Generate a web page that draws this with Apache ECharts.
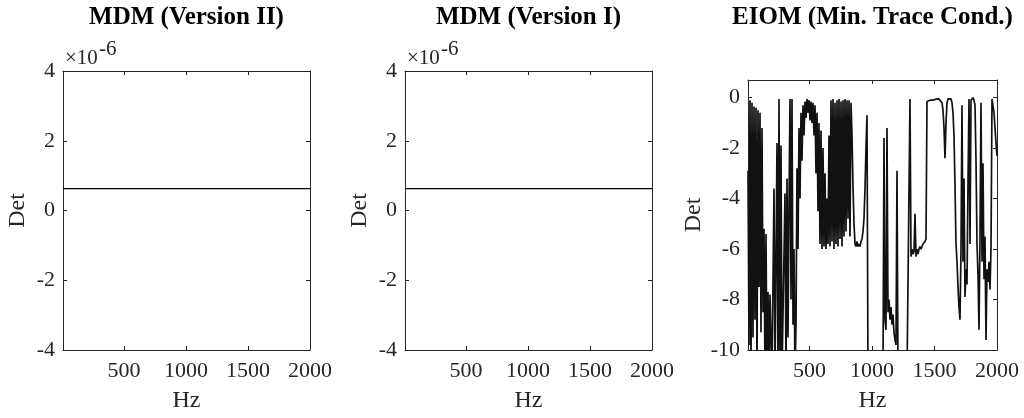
<!DOCTYPE html>
<html>
<head>
<meta charset="utf-8">
<script src="https://cdn.jsdelivr.net/npm/echarts@6/dist/echarts.min.js"></script>
<style>
html,body{margin:0;padding:0;background:#fff;}
#chart{width:1024px;height:418px;}
</style>
</head>
<body>
<div id="chart"></div>
<script>
// ---- data ----
const titles = ['MDM (Version II)', 'MDM (Version I)', 'EIOM (Min. Trace Cond.)'];
const xTicks = [500, 1000, 1500, 2000];
const mdmTicks = [-4, -2, 0, 2, 4];
const eiomTicks = [-10, -8, -6, -4, -2, 0];
const mdmHz = [8, 2000];
const mdm2Det = [6.3e-7, 6.3e-7];
const mdm1Det = [6.3e-7, 6.3e-7];
const freqStart = 8;
const freqStep = 8;
const eiomDet = [
  -2.9, -9.8, -0.1, -11, -0.2, -9.5, -0.35, -8.8, -0.4, -11, -0.5, -7.5, -0.6, -9.3, -1.2, -8.5,
  -5.2, -11, -5.4, -11, -7.7, -11, -7.8, -9.6, -11, -11, -3.6, -11, -11, -1.8, -11, -0.05,
  -11, -1.9, -11, -11, -11, -3.8, -11, -3.2, -9.5, -4.2, -0.05, -8, -0.05, -9, -6, -11,
  -9.0, -2.8, -6.0, -1.2, -4.0, -0.6, -2.5, -0.3, -1.5, -0.15, -0.8, -0.05, -0.6, -0.1, -0.9, -0.15, -1.0,
  -0.2, -1.5, -0.3, -3.0, -0.6, -4.5, -1.0, -5.8, -1.3, -6.0, -2.0, -5.9, -3.0, -6.0, -4.0, -5.8, -1.5, -5.9,
  -0.1, -5.7, -0.05, -6.0, -0.2, -5.8, -0.1, -5.9, -0.05, -5.6, -0.15, -5.9, -0.1, -5.5, -0.05, -5.3, -0.1, -4.8, -0.1, -5.5, -0.2,
  -1.5, -3.5, -5.0, -5.8, -5.9, -5.7, -5.9, -5.8, -5.9, -5.7, -5.6, -5.3, -4.8, -3.6, -2.0, -0.7, -11,
  -11, -11, -11, -11, -11, -11, -11, -11, -11, -11, -11, -11, -11, -11, -11,
  -1.6, -8.8, -9.2, -1.2, -8.5, -8.0, -8.8, -8.3, -9.0, -8.6, -9.3, -9.6, -9.8, -2.9,
  -11, -11, -11, -11, -11, -11, -11, -11, -11, -11, -11, -11,
  -0.05, -6.3, -6.0, -6.2, -6.1, -4.6, -6.3, -6.0, -6.2, -6.0, -5.9, -6.0, -5.9, -5.8, -5.8, -5.7, -5.6, -0.15,
  -0.15, -0.12, -0.1, -0.1, -0.08, -0.1, -0.07, -0.08, -0.06, -0.05, -0.06, -0.05, -0.05, -0.1, -0.2, -0.5, -1.2, -2.4, -1.0, -0.2, -0.05, 0.0, -0.1, -0.05, -0.2, -0.6,
  -1.5, -3.5, -5.8, -6.5, -7.5, -8.3, -8.8, -6.0, -0.3, -6.5, -3.2, -7.9, -6.8, -7.4, -3.4, -0.05, -5.8, -0.1, -0.05, 0.0, -0.1, -0.3, -2.5, -5.8, -7.0, -9.2, -5.5, -0.2, -6.5, -2.6, -7.2, -5.5, -9.6, -6.8, -7.3, -6.5, -7.6, -6.0, -0.05, -0.1, -0.6, -1.2, -1.8, -2.3
];

// ---- layout / style ----
const FONT = '"Liberation Serif", "Times New Roman", serif';
const AX = '#262626';
const grids = [
  {left: 63, top: 71, width: 247, height: 280},
  {left: 405, top: 71, width: 247, height: 280},
  {left: 748, top: 80, width: 249, height: 271}
];
const yRanges = [
  {min: -4e-6, max: 4e-6, ticks: mdmTicks.map(v => v * 1e-6), fmt: v => String(Math.round(v * 1e6))},
  {min: -4e-6, max: 4e-6, ticks: mdmTicks.map(v => v * 1e-6), fmt: v => String(Math.round(v * 1e6))},
  {min: -10, max: 0.7, ticks: eiomTicks, fmt: v => String(Math.round(v))}
];
const yNameGaps = [33, 33, 42];

const xAxes = [], yAxes = [], series = [], title = [], graphic = [];
grids.forEach((g, k) => {
  const base = {
    type: 'value', gridIndex: k, min: 8, max: 2000,
    axisLine: {show: true, onZero: false, lineStyle: {color: AX, width: 1}},
    axisTick: {show: true, inside: true, length: 4, customValues: xTicks, lineStyle: {color: AX}},
    splitLine: {show: false}
  };
  xAxes.push(Object.assign({}, base, {
    position: 'bottom',
    name: 'Hz', nameLocation: 'middle', nameGap: 39,
    nameTextStyle: {fontFamily: FONT, fontSize: 24, color: AX},
    axisLabel: {show: true, customValues: xTicks, formatter: v => String(Math.round(v)), margin: 10,
      fontFamily: FONT, fontSize: 22, color: AX}
  }));
  xAxes.push(Object.assign({}, base, {position: 'top', axisLabel: {show: false}}));
  const yr = yRanges[k];
  const ybase = {
    type: 'value', gridIndex: k, min: yr.min, max: yr.max,
    axisLine: {show: true, onZero: false, lineStyle: {color: AX, width: 1}},
    axisTick: {show: true, inside: true, length: 4, customValues: yr.ticks, lineStyle: {color: AX}},
    splitLine: {show: false}
  };
  yAxes.push(Object.assign({}, ybase, {
    position: 'left',
    name: 'Det', nameLocation: 'middle', nameGap: yNameGaps[k], nameRotate: 90,
    nameTextStyle: {fontFamily: FONT, fontSize: 24, color: AX},
    axisLabel: {show: true, customValues: yr.ticks, formatter: yr.fmt, margin: 8, fontFamily: FONT, fontSize: 22, color: AX}
  }));
  yAxes.push(Object.assign({}, ybase, {position: 'right', axisLabel: {show: false}}));
  title.push({
    text: titles[k], left: g.left + g.width / 2, top: 5, textAlign: 'center', padding: 0,
    textStyle: {fontFamily: FONT, fontSize: 25, fontWeight: 'bold', color: '#000'}
  });
});

series.push({type: 'line', xAxisIndex: 0, yAxisIndex: 0, showSymbol: false, silent: true,
  lineStyle: {color: '#000', width: 1.2}, data: mdmHz.map((h, i) => [h, mdm2Det[i]])});
series.push({type: 'line', xAxisIndex: 2, yAxisIndex: 2, showSymbol: false, silent: true,
  lineStyle: {color: '#000', width: 1.2}, data: mdmHz.map((h, i) => [h, mdm1Det[i]])});
series.push({type: 'line', xAxisIndex: 4, yAxisIndex: 4, showSymbol: false, silent: true, clip: true,
  lineStyle: {color: '#111', width: 1.7, join: 'bevel'}, data: eiomDet.map((v, i) => [freqStart + i * freqStep, v])});

[0, 1].forEach(k => {
  const x0 = grids[k].left + 2;
  graphic.push({type: 'text', left: x0, top: 48, silent: true,
    style: {text: '\u00d710', fontFamily: FONT, fontSize: 21, fill: AX}});
  graphic.push({type: 'text', left: x0 + 34, top: 39, silent: true,
    style: {text: '-6', fontFamily: FONT, fontSize: 21, fill: AX}});
});

const chart = echarts.init(document.getElementById('chart'), null, {renderer: 'canvas'});
chart.setOption({
  animation: false,
  backgroundColor: '#fff',
  title: title,
  grid: grids,
  xAxis: xAxes,
  yAxis: yAxes,
  series: series,
  graphic: graphic
});
</script>
</body>
</html>
